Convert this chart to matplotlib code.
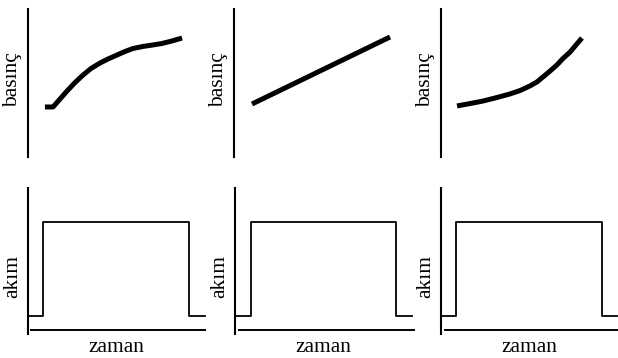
import numpy as np
import matplotlib.pyplot as plt

# pressure curves (time, pressure), arbitrary units 0..10
t_p1 = [0.94, 1.39, 1.78, 2.17, 2.61, 3.06, 3.5, 4.0, 4.44, 4.94, 5.39,
        5.83, 6.39, 6.94, 7.44, 8.0, 8.56]
p1 = [3.38, 3.38, 3.92, 4.46, 5.03, 5.54, 5.98, 6.35, 6.62, 6.89, 7.13,
      7.33, 7.47, 7.57, 7.67, 7.84, 8.04]
t_p2 = [1.0, 8.67]
p2 = [3.58, 8.11]
t_p3 = [0.89, 1.61, 2.33, 3.11, 3.83, 4.39, 4.94, 5.33, 5.67, 6.06, 6.44,
        6.78, 7.17, 7.5, 7.83]
p3 = [3.45, 3.61, 3.78, 4.02, 4.26, 4.49, 4.80, 5.07, 5.41, 5.81, 6.22,
      6.66, 7.09, 7.57, 8.04]

# current pulses: switch on / switch off / end of trace
akim_low = 1.23
akim_high = 7.67
t_on = [0.83, 0.89, 0.83]
t_off = [8.94, 8.94, 8.94]
t_end = [9.83, 9.83, 9.78]
base_start = [0.17, 0.22, 0.22]
base_end = [9.83, 9.94, 9.83]
base_y = 0.27

ylabel_top = "basınç"
ylabel_bot = "akım"
xlabel = "zaman"

W, H = 618, 358
plt.rcParams['font.family'] = ['Liberation Serif', 'DejaVu Serif']
fig = plt.figure(figsize=(W / 100, H / 100), dpi=100)

def rect(x0, y_top, w, h):
    # pixel box (from top-left) -> figure fraction
    return [x0 / W, (H - y_top - h) / H, w / W, h / H]

spine_top = [28, 234, 441]
spine_bot = [28, 235, 441]
curves = [(t_p1, p1), (t_p2, p2), (t_p3, p3)]

for i in range(3):
    # top row: pressure
    ax = fig.add_axes(rect(spine_top[i], 9, 180, 148))
    ax.set_xlim(0, 10)
    ax.set_ylim(0, 10)
    t, p = curves[i]
    ax.plot(t, p, color='black', lw=3.6, solid_capstyle='butt', solid_joinstyle='round')
    for s in ['top', 'right', 'bottom']:
        ax.spines[s].set_visible(False)
    ax.spines['left'].set_linewidth(1.5)
    ax.set_xticks([])
    ax.set_yticks([])
    fig.text((spine_top[i] - 15) / W, (H - 80) / H, ylabel_top, rotation=90,
             ha='center', va='center', fontsize=15.5)

    # bottom row: current
    ax = fig.add_axes(rect(spine_bot[i], 188, 180, 146))
    ax.set_xlim(0, 10)
    ax.set_ylim(0, 10)
    x = [0, t_on[i], t_on[i], t_off[i], t_off[i], t_end[i]]
    y = [akim_low, akim_low, akim_high, akim_high, akim_low, akim_low]
    ax.plot(x, y, color='black', lw=1.3, clip_on=False)
    for s in ['top', 'right']:
        ax.spines[s].set_visible(False)
    ax.spines['left'].set_linewidth(1.5)
    ax.spines['bottom'].set_linewidth(1.4)
    ax.spines['bottom'].set_position(('data', base_y))
    ax.spines['bottom'].set_bounds(base_start[i], base_end[i])
    ax.set_xticks([])
    ax.set_yticks([])
    fig.text((spine_bot[i] - 15) / W, (H - 276) / H, ylabel_bot, rotation=90,
             ha='center', va='center', fontsize=15.5)
    fig.text((spine_bot[i] + 88) / W, (H - 352) / H, xlabel,
             ha='center', va='baseline', fontsize=15.5)

fig.savefig('out.png', dpi=100)
